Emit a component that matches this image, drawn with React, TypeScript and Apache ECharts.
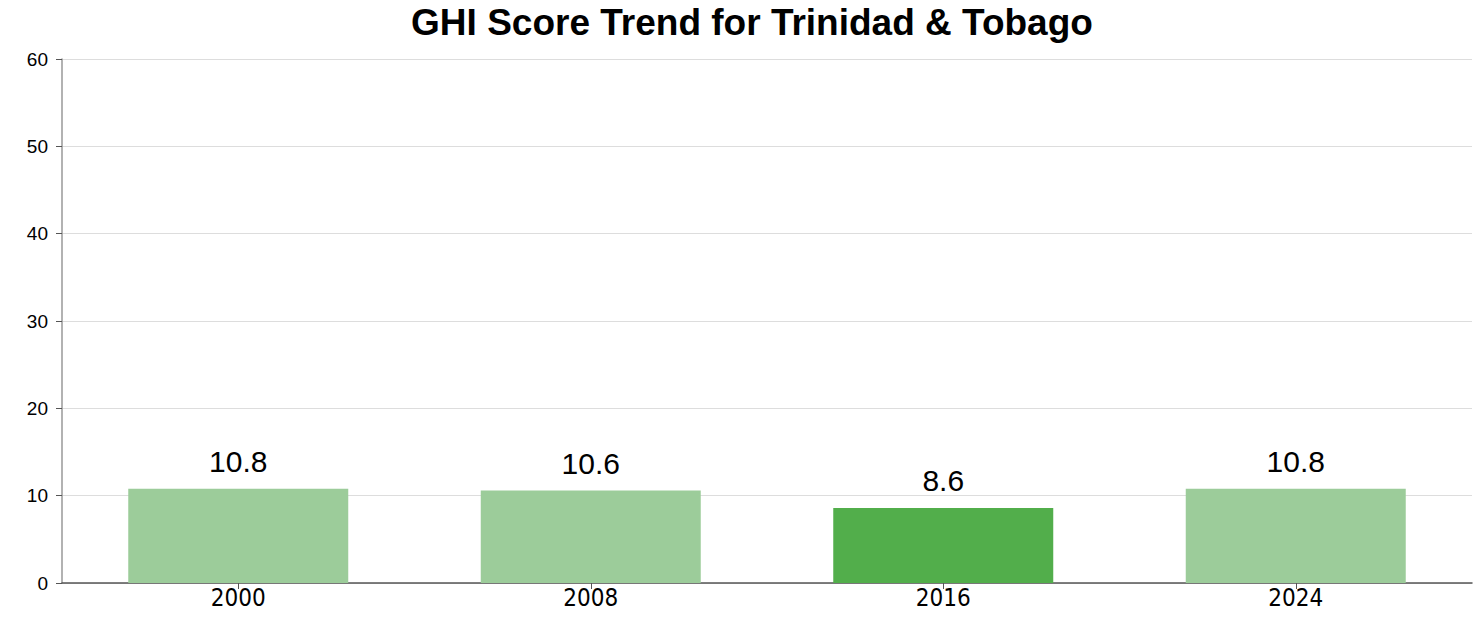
import React, { useEffect, useRef } from "react";
import * as echarts from "echarts";

const years = ["2000", "2008", "2016", "2024"];
const scores = [10.8, 10.6, 8.6, 10.8];
const yTicks = [0, 10, 20, 30, 40, 50, 60];
const titleText = "GHI Score Trend for Trinidad & Tobago";

const LIGHT = "#9ccc9a";
const DARK = "#52ae4b";
const FONT = "'Liberation Sans', Arial, sans-serif";
const NARROW = "'DejaVu Sans Condensed', 'Liberation Sans', sans-serif";

export default function App() {
  const ref = useRef<HTMLDivElement>(null);
  useEffect(() => {
    if (!ref.current) return;
    const chart = echarts.init(ref.current, undefined, { renderer: "svg" });
    const minVal = Math.min(...scores);
    chart.setOption({
      animation: false,
      graphic: [
        {
          type: "text",
          x: 752,
          y: 22.5,
          style: {
            text: titleText,
            fontFamily: FONT,
            fontWeight: "bold",
            fontSize: 37,
            fill: "#000",
            align: "center",
            verticalAlign: "middle",
          },
        },
      ],
      grid: { left: 62, right: 5, top: 59, bottom: 34, containLabel: false },
      xAxis: {
        type: "category",
        data: years,
        axisTick: { show: true, alignWithLabel: true, length: 6, lineStyle: { color: "#555" } },
        axisLine: { lineStyle: { color: "#555", width: 1.5 } },
        axisLabel: { fontFamily: NARROW, fontSize: 24, color: "#000", margin: 3 },
      },
      yAxis: {
        type: "value",
        min: yTicks[0],
        max: yTicks[yTicks.length - 1],
        interval: 10,
        axisLine: { show: true, lineStyle: { color: "#999", width: 1.5 } },
        axisTick: { show: true, length: 6, lineStyle: { color: "#555" } },
        splitLine: { lineStyle: { color: "#ddd", width: 1 } },
        axisLabel: { fontFamily: FONT, fontSize: 19, color: "#000", margin: 14 },
      },
      series: [
        {
          type: "bar",
          barWidth: 220,
          data: scores.map((v) => ({
            value: v,
            itemStyle: { color: v === minVal ? DARK : LIGHT },
          })),
          label: {
            show: true,
            position: "top",
            distance: 12,
            fontFamily: FONT,
            fontSize: 30,
            color: "#000",
          },
        },
      ],
    });
    return () => chart.dispose();
  }, []);
  return (
    <div
      ref={ref}
      style={{ position: "absolute", left: 0, top: 0, width: 1477, height: 617 }}
    />
  );
}
